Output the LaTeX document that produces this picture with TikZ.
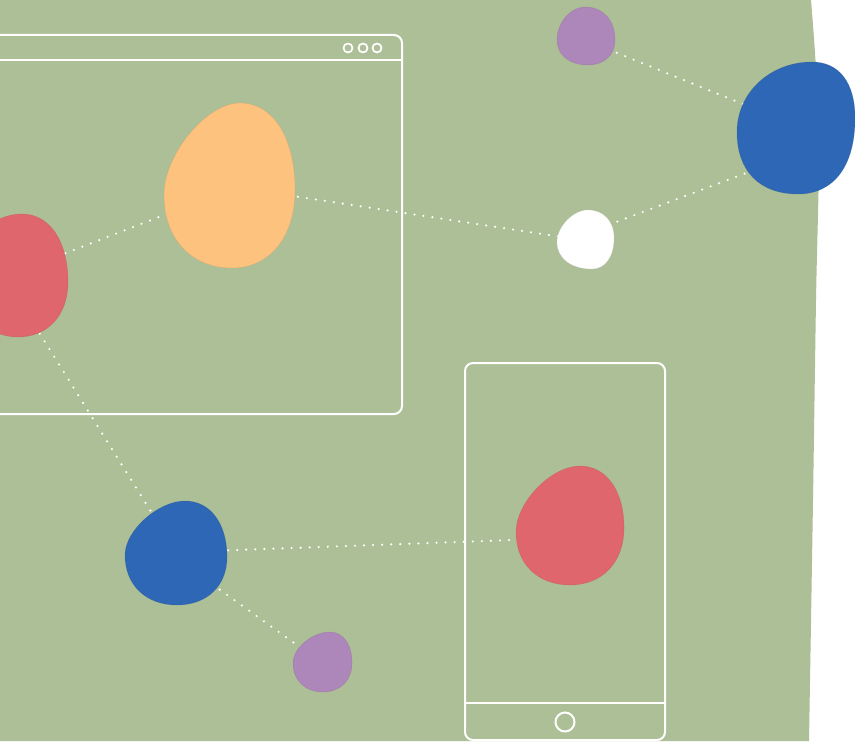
\documentclass[tikz,border=0pt]{standalone}
\usepackage{tikz}
\usetikzlibrary{positioning, calc}
\definecolor{leafgreen}{RGB}{173, 191, 151}
\definecolor{blobblue}{RGB}{46, 103, 181}
\definecolor{blobred}{RGB}{224, 102, 110}
\definecolor{bloborange}{RGB}{254, 194, 127}
\definecolor{blobpurple}{RGB}{173, 134, 186}
\tikzset{
  frame/.style={draw=white, line width=1.5pt, rounded corners=6pt},
  link/.style={white, line width=1.8pt, line cap=round, dash pattern=on 0pt off 6.8pt},
  blob/.style={fill=#1, draw=#1!80!black, draw opacity=0.35, line width=0.4pt}
}
\newcommand{\blob}[7][0.6]{%
  \coordinate (bT) at #4; \coordinate (bR) at #5;
  \coordinate (bB) at #6; \coordinate (bL) at #7;
  \filldraw[blob=#2] (bT) .. controls ($(bT)!#1!(bT-|bR)$) and ($(bR)!#1!(bT-|bR)$) .. (bR)
    .. controls ($(bR)!#1!(bR|-bB)$) and ($(bB)!#1!(bR|-bB)$) .. (bB)
    .. controls ($(bB)!#1!(bL|-bB)$) and ($(bL)!#1!(bL|-bB)$) .. (bL)
    .. controls ($(bL)!#3!(bL|-bT)$) and ($(bT)!#3!(bL|-bT)$) .. (bT) -- cycle;}
\begin{document}
\begin{tikzpicture}[x=0.75pt, y=-0.75pt]
  \useasboundingbox (0,0) rectangle (855,741);
  \clip (0,0) rectangle (855,741);
  \fill[white] (0,0) rectangle (855,741);
  \fill[leafgreen] (0,0) -- plot[smooth] coordinates {(811,0) (819,130) (816,300) (813,500) (809,741)} -- (0,741) -- cycle;

  \draw[frame] (-20,35) rectangle (402,414);
  \draw[white, line width=1.5pt] (-20,60) -- (402,60);
  \foreach \x in {348,363,377} {
    \draw[white, line width=1.3pt] (\x,48) circle[radius=4.5];
  }
  \draw[frame] (465,363) rectangle (665,740);
  \draw[white, line width=1.5pt] (465,703) -- (665,703);
  \draw[white, line width=1.5pt] (565,722) circle[radius=9.5];

  \coordinate (purpleA-e) at (600,46);
  \coordinate (blueA-w) at (770,115);
  \coordinate (blueA-sw) at (770,164);
  \coordinate (white-ne) at (595,230);
  \coordinate (orange-e) at (280,194);
  \coordinate (white-w) at (575,239);
  \coordinate (redA-ne) at (40,263);
  \coordinate (orange-w) at (185,207);
  \coordinate (redA-s) at (35,326);
  \coordinate (blueB-n) at (160,526);
  \coordinate (blueB-e) at (210,551);
  \coordinate (redB-w) at (540,539);
  \coordinate (blueB-se) at (205,579);
  \coordinate (purpleB-nw) at (315,658);

  \draw[link] (purpleA-e) -- (blueA-w);
  \draw[link] (blueA-sw) -- (white-ne);
  \draw[link] (orange-e) -- (white-w);
  \draw[link] (redA-ne) -- (orange-w);
  \draw[link] (redA-s) -- (blueB-n);
  \draw[link] (blueB-e) -- (redB-w);
  \draw[link] (blueB-se) -- (purpleB-nw);

  \blob{blobpurple}{0.52}{(585,7)}{(615,40)}{(588,65)}{(557,40)}
  \blob[0.63]{blobblue}{0.56}{(812,62)}{(855,118)}{(798,194)}{(737,132)}
  \blob[0.6]{bloborange}{0.44}{(240,103)}{(295,190)}{(232,268)}{(164,195)}
  \blob{white}{0.48}{(588,210)}{(614,238)}{(592,269)}{(557,242)}
  \blob{blobred}{0.55}{(22,214)}{(68,282)}{(18,337)}{(-35,275)}
  \blob{blobblue}{0.45}{(185,501)}{(227,557)}{(177,605)}{(125,555)}
  \blob{blobpurple}{0.48}{(330,632)}{(352,663)}{(323,692)}{(293,663)}
  \blob{blobred}{0.45}{(580,466)}{(624,528)}{(570,585)}{(516,532)}
\end{tikzpicture}
\end{document}
